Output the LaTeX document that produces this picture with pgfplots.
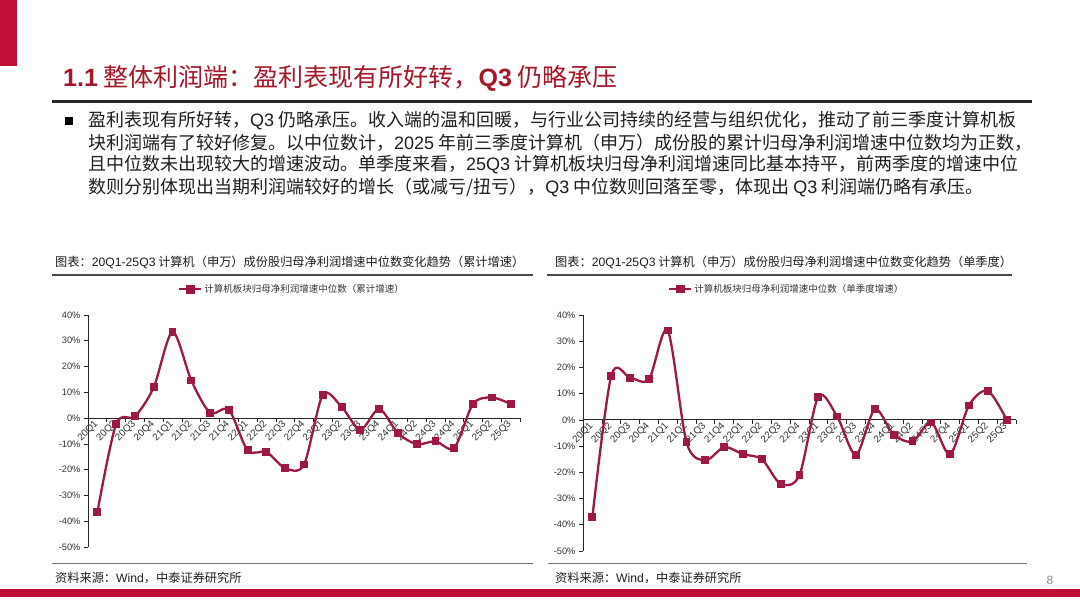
\documentclass[border=0pt]{standalone}
\usepackage{fontspec}
\usepackage{pgfplots}
\pgfplotsset{compat=1.18}
\setmainfont{Noto Sans CJK SC}
\newfontfamily\lat{Liberation Sans}
\definecolor{slidered}{RGB}{192,16,58}
\definecolor{titlered}{RGB}{165,22,40}
\definecolor{serie}{RGB}{158,24,70}
\definecolor{txt}{RGB}{30,30,30}

\pgfplotsset{
  slidechart/.style={
    scale only axis, clip=false,
    xmin=-0.5, xmax=22.5, ymin=-50, ymax=40,
    axis x line*=middle, axis y line*=left,
    axis line style={black!85, line width=0.8pt},
    xtick={0,...,22},
    xticklabels={20Q1,20Q2,20Q3,20Q4,21Q1,21Q2,21Q3,21Q4,22Q1,22Q2,22Q3,22Q4,
                 23Q1,23Q2,23Q3,23Q4,24Q1,24Q2,24Q3,24Q4,25Q1,25Q2,25Q3},
    minor xtick={-0.5,0.5,...,22.5},
    major x tick style={draw=none},
    minor x tick style={black!85, line width=0.6pt},
    minor tick length=4pt,
    xtick align=outside,
    ytick={-50,-40,...,40},
    yticklabels={-50\%,-40\%,-30\%,-20\%,-10\%,0\%,10\%,20\%,30\%,40\%},
    ytick align=outside, major tick length=4pt,
    y tick style={black!85, line width=0.6pt},
    xticklabel style={rotate=45, anchor=east, inner sep=1pt, text=black!80,
                      font=\lat\fontsize{9.8}{11}\selectfont},
    yticklabel style={text=black!80, font=\lat\fontsize{9.3}{10}\selectfont},
    legend style={draw=none, fill=none, anchor=west,
                  font=\fontsize{9.5}{11}\selectfont, text=black!80},
    legend image code/.code={
      \draw[serie, line width=2pt] (0pt,0pt) -- (22pt,0pt);
      \fill[serie] (8pt,-3pt) rectangle (14pt,3pt);},
  },
  slideline/.style={serie, line width=2.3pt, smooth,
                    mark=square*, mark size=2.8pt, mark options={solid}},
}

\begin{document}
\begin{tikzpicture}
\path[use as bounding box, fill=white] (0pt,0pt) rectangle (1080pt,-608pt);
% slide frame
\fill[slidered] (0pt,0pt) rectangle (17pt,-66pt);
\node[anchor=west, inner sep=0, text=titlered, font=\fontsize{25}{28}\selectfont]
  at (63pt,-78pt) {{\lat\bfseries 1.1} 整体利润端：盈利表现有所好转，{\lat\bfseries Q3} 仍略承压};
\draw[line width=3pt, black!85] (52pt,-101pt) -- (1032pt,-101pt);

% bullet text
\fill[black] (65pt,-117pt) rectangle (73pt,-125pt);
\begin{scope}[every node/.style={anchor=west, inner sep=0, text=txt,
              font=\fontsize{18}{20}\selectfont}]
\node at (88pt,-121pt) {盈利表现有所好转，{\lat Q3} 仍略承压。收入端的温和回暖，与行业公司持续的经营与组织优化，推动了前三季度计算机板};
\node at (88pt,-143pt) {块利润端有了较好修复。以中位数计，{\lat 2025} 年前三季度计算机（申万）成份股的累计归母净利润增速中位数均为正数，};
\node at (88pt,-165pt) {且中位数未出现较大的增速波动。单季度来看，{\lat 25Q3} 计算机板块归母净利润增速同比基本持平，前两季度的增速中位};
\node at (88pt,-187pt) {数则分别体现出当期利润端较好的增长（或减亏/扭亏），{\lat Q3} 中位数则回落至零，体现出 {\lat Q3} 利润端仍略有承压。};
\end{scope}

% chart titles and rules
\begin{scope}[every node/.style={anchor=west, inner sep=0, text=txt,
              font=\fontsize{12.2}{14}\selectfont}]
\node at (55pt,-262pt) {图表：{\lat 20Q1-25Q3} 计算机（申万）成份股归母净利润增速中位数变化趋势（累计增速）};
\node at (555pt,-262pt) {图表：{\lat 20Q1-25Q3} 计算机（申万）成份股归母净利润增速中位数变化趋势（单季度）};
\node at (55pt,-578pt) {资料来源：{\lat Wind}，中泰证券研究所};
\node at (555pt,-578pt) {资料来源：{\lat Wind}，中泰证券研究所};
\end{scope}
\draw[line width=1.5pt, black!70] (52pt,-275pt) -- (533pt,-275pt);
\draw[line width=1.5pt, black!70] (547pt,-275pt) -- (1012pt,-275pt);
\draw[line width=1pt, black!55] (52pt,-563pt) -- (533pt,-563pt);
\draw[line width=1pt, black!55] (548pt,-563pt) -- (1027pt,-563pt);
\node[text=black!45, font=\lat\fontsize{12}{14}\selectfont] at (1050pt,-580pt) {8};
\fill[slidered] (0pt,-589pt) rectangle (1080pt,-597pt);

% chart 1: cumulative growth
\begin{axis}[slidechart, at={(88pt,-547pt)}, anchor=south west,
    width=432pt, height=232pt,
    legend style={at={(0.202,1.11)}}]
\addplot[slideline] coordinates {
  (0,-36.5) (1,-2.3) (2,0.7) (3,12.0) (4,33.4) (5,14.6) (6,2.1) (7,3.2)
  (8,-12.5) (9,-13.2) (10,-19.4) (11,-18.0) (12,9.0) (13,4.4) (14,-4.5)
  (15,3.5) (16,-5.8) (17,-10.1) (18,-9.0) (19,-11.5) (20,5.5) (21,8.0) (22,5.5)
};
\addlegendentry{计算机板块归母净利润增速中位数（累计增速）}
\end{axis}

% chart 2: single-quarter growth
\begin{axis}[slidechart, at={(583pt,-551pt)}, anchor=south west,
    width=433pt, height=236pt,
    legend style={at={(0.19,1.11)}}]
\addplot[slideline] coordinates {
  (0,-37.0) (1,16.8) (2,16.1) (3,15.5) (4,34.1) (5,-8.6) (6,-15.4) (7,-10.4)
  (8,-13.1) (9,-15.0) (10,-24.4) (11,-21.0) (12,8.9) (13,1.3) (14,-13.3)
  (15,4.0) (16,-5.6) (17,-8.2) (18,-1.0) (19,-13.1) (20,5.5) (21,11.1) (22,0.1)
};
\addlegendentry{计算机板块归母净利润增速中位数（单季度增速）}
\end{axis}
\end{tikzpicture}
\end{document}
